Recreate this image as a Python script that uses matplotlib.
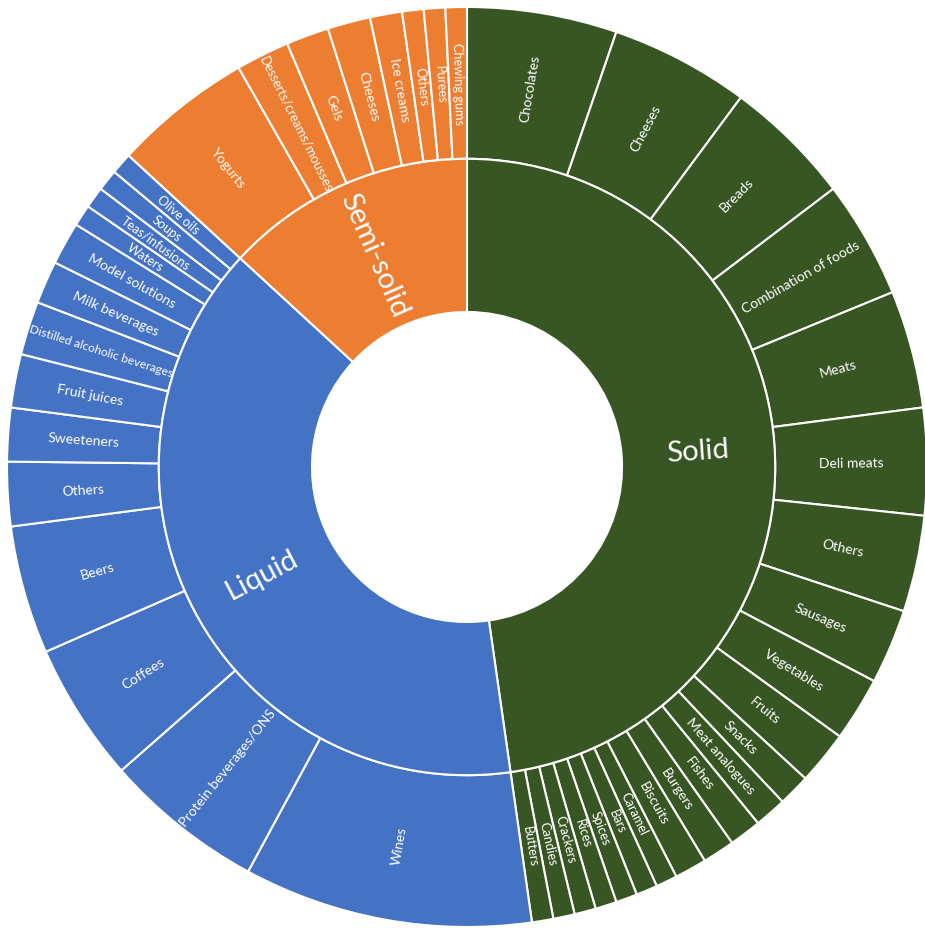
import matplotlib
matplotlib.use("Agg")
import matplotlib.pyplot as plt
import numpy as np

plt.rcParams['font.family'] = ['Lato', 'DejaVu Sans']

# ---- data (counts) ----
inner_labels = ["Solid", "Liquid", "Semi-solid"]

solid_labels = ["Chocolates", "Cheeses", "Breads", "Combination of foods", "Meats",
                "Deli meats", "Others", "Sausages", "Vegetables", "Fruits", "Snacks",
                "Meat analogues", "Fishes", "Burgers", "Biscuits", "Caramel", "Bars",
                "Spices", "Rices", "Crackers", "Candies", "Butters"]
solid_values = [14, 13, 12, 11, 11, 10, 9, 7, 6, 5, 3, 3, 3, 3, 3, 2, 2, 2, 2, 2, 2, 2]

liquid_labels = ["Wines", "Protein beverages/ONS", "Coffees", "Beers", "Others",
                 "Sweeteners", "Fruit juices", "Distilled alcoholic beverages",
                 "Milk beverages", "Model solutions", "Waters", "Teas/infusions",
                 "Soups", "Olive oils"]
liquid_values = [27, 15, 13, 12, 6, 5, 5, 5, 4, 4, 2, 2, 2, 2]

semi_labels = ["Yogurts", "Desserts/creams/mousses", "Gels", "Cheeses", "Ice creams",
               "Others", "Purees", "Chewing gums"]
semi_values = [13, 5, 4, 4, 3, 2, 2, 2]

group_colors = ["#375623", "#4472C4", "#ED7D31"]

# ---- figure ----
W, H, DPI = 925, 929, 100
fig = plt.figure(figsize=(W / DPI, H / DPI), dpi=DPI)
ax = fig.add_axes([0, 0, 1, 1])

R_OUT, R_MID, R_HOLE = 1.0, 0.67, 0.337
PX = 460.0          # pixels per data unit
CX, CY = 467.0, 468.0  # centre in pixels (from top-left)

groups = [(solid_labels, solid_values), (liquid_labels, liquid_values), (semi_labels, semi_values)]
outer_labels, outer_values, outer_colors = [], [], []
for (labs, vals), col in zip(groups, group_colors):
    outer_labels += labs
    outer_values += vals
    outer_colors += [col] * len(vals)
inner_values = [sum(v) for _, v in groups]
total = float(sum(outer_values))

wp = dict(edgecolor="white", linewidth=1.5)
ax.pie(outer_values, radius=R_OUT, startangle=90, counterclock=False, colors=outer_colors,
       wedgeprops=dict(width=R_OUT - R_MID, **wp))
ax.pie(inner_values, radius=R_MID, startangle=90, counterclock=False, colors=group_colors,
       wedgeprops=dict(width=R_MID - R_HOLE, **wp))

ax.set_xlim(-CX / PX, (W - CX) / PX)
ax.set_ylim(-(H - CY) / PX, CY / PX)
ax.axis("off")

renderer = fig.canvas.get_renderer()


def place(labels, values, r, base_fs, maxlen_px, arc_factor):
    cum = 0.0
    for lab, v in zip(labels, values):
        mid = (cum + v / 2.0) / total * 360.0
        cum += v
        a = 90.0 - mid
        x = r * np.cos(np.radians(a))
        y = r * np.sin(np.radians(a))
        rot = a
        while rot > 90:
            rot -= 180
        while rot <= -90:
            rot += 180
        arc_px = v / total * 2 * np.pi * r * PX
        fs = min(base_fs, arc_px * arc_factor / (DPI / 72.0))
        t = ax.text(x, y, lab, color="white", fontsize=fs, ha="center", va="center",
                    rotation=0, rotation_mode="anchor")
        w = t.get_window_extent(renderer).width
        if w > maxlen_px:
            fs = fs * maxlen_px / w
            t.set_fontsize(fs)
        t.set_rotation(rot)


place(outer_labels, outer_values, (R_OUT + R_MID) / 2, 10, 150, 0.7)
place(inner_labels, inner_values, (R_MID + R_HOLE) / 2, 21, 150, 1.0)

fig.savefig("out.png", dpi=DPI, facecolor="white")
